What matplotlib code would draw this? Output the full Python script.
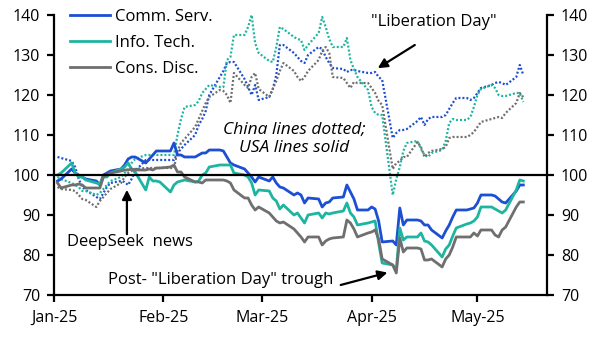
import pandas as pd
import numpy as np
import matplotlib.pyplot as plt
import matplotlib.dates as mdates

plt.rcParams['font.family'] = ['Open Sans', 'DejaVu Sans']

# business days, Jan 2 - May 14 2025
dates = pd.bdate_range('2025-01-02', '2025-05-14')

# US sectors (solid)
us_comm = [98.5, 99, 101.5, 100.5, 100, 99.5, 99, 98.5, 97.5, 100, 100.5, 101, 101.5, 102.5, 104, 104.5, 104.5, 103, 104, 105, 106, 106,
           106, 108, 105, 105, 104.5, 104.5, 105, 105.5, 105.5, 106.25, 106.25, 106, 104.5, 103, 102.5, 101.5, 100.5, 99.5, 98.25, 99.5,
           98.5, 99.5, 98, 97, 96.75, 95, 95.5, 95, 93, 94.25, 94, 92, 93, 93.25, 94.25, 94.5, 97.5, 95.75, 94, 91.25, 91.25,
           92, 91.5, 88.5, 83.25, 83.5, 82.5, 91.75, 87.5, 88.75, 88.75, 88.5, 87.5, 87.5, 86.25, 84.25, 86, 87.5, 89.5, 91.25, 91.25, 91.5, 91.75,
           93, 95, 95, 94.75, 94, 93.25, 93, 96, 97.5, 97.5]
us_tech = [100, 100.5, 103, 100.5, 99.5, 99.5, 98.75, 98, 97.75, 99.5, 99.5, 100.5, 101.5, 102, 103, 101.5, 100.75, 96.25, 99.5, 98.5, 98.5, 98.25,
           95.75, 97.5, 98.25, 98.5, 98.75, 98.25, 98.5, 100, 100.5, 102, 102.5, 102.5, 102.5, 102.5, 100.5, 100, 99.5, 98, 95, 96.25,
           96, 94.25, 93.5, 91.5, 92.5, 90, 90.5, 89.25, 88, 90, 90.5, 89.25, 90.5, 90.25, 90.5, 91, 93, 90.5, 89.5, 87.5, 88,
           88.25, 88.5, 83, 78, 77.5, 76.25, 86.75, 83.75, 84.5, 84.5, 85.5, 83.5, 83.25, 82.5, 79.5, 81.5, 82.5, 84.75, 86.75, 87.75, 88, 88.5,
           89.5, 92, 92, 91.5, 91, 90.5, 91.25, 96.25, 98.75, 98.5]
us_disc = [98, 96.75, 97.5, 97.5, 97.75, 97.5, 96.75, 96.75, 96.75, 99.5, 100, 100.5, 101, 101.25, 101.25, 101.5, 101.25, 101.25, 101.5, 101.25, 101.75, 101.75,
           102, 102.5, 100.75, 100.75, 99.5, 98.25, 98.25, 98, 98.75, 98.75, 98.75, 98.75, 98.5, 98, 96.25, 94.25, 94.25, 92.5, 91.25, 92,
           90.5, 89.5, 88.5, 88, 88.25, 86.5, 85.5, 84.5, 83.25, 84.5, 84.5, 82.5, 83.5, 84, 84.25, 84.5, 88.75, 88, 86.5, 84.5, 85.5,
           85.75, 86.25, 84, 79, 77.5, 75.5, 84.25, 80.75, 81.75, 81.75, 81.5, 78.75, 78.75, 79, 77, 79, 80, 82, 84.5, 84.5, 84.5, 85.5,
           84.75, 86.25, 86.25, 85, 84.5, 86.25, 87, 92, 93.25, 93.25]

# China sectors (dotted)
cn_comm = [104.5, 104.25, 103.5, 102, 99, 97, 96.25, 94.5, 94, 95.5, 97, 98, 98.5, 98.25, 97.5, 99, 101, 103.75, 103.75, 103.75, 103.75, 103.75,
           103.75, 103.75, 105.5, 106.5, 107.5, 110, 112.5, 114, 116, 120, 124.5, 126, 128, 128.25, 128.25, 124, 122, 120, 122.5, 118.75,
           119.5, 121.5, 125, 132.5, 132.5, 130.5, 129.5, 128.5, 128, 130, 132, 131.5, 129.5, 128, 126.75, 126.5, 125.75, 126.25, 126.25, 126, 125.5,
           125.5, 125.75, 124.5, 123.75, 109.25, 110.5, 111.25, 111.25, 111.5, 113.5, 114.5, 112.5, 114, 114.5, 114.5, 115, 116.5, 118, 119.25, 119.25, 118.75, 119.25,
           120.5, 121.75, 122.5, 123, 123.25, 123, 122.5, 124.5, 127.5, 125]
cn_tech = [99.5, 99, 98, 97.5, 97, 96, 96, 95, 95.5, 96.5, 97.5, 98.5, 99.5, 100.5, 101.5, 103, 104, 105, 105, 105, 105, 105,
           105, 105, 110, 114, 117, 117.5, 118.5, 120.5, 121.5, 122.5, 122, 122, 128.75, 129.5, 135, 135, 137, 140, 133, 130.5,
           128.5, 128.25, 132, 137, 136.5, 134.5, 134, 133.75, 131.25, 132.5, 135.5, 139.5, 137, 134, 132, 132, 134.25, 128.75, 126.5, 124.5, 121.25,
           117, 115.5, 115, 115, 95, 99, 102, 106, 108, 108.5, 106.5, 105, 104.5, 105.5, 106.25, 108.5, 113, 114, 113.75, 113.75, 114.5, 117,
           120, 121.5, 122.5, 121.75, 120, 119.75, 119.75, 120.5, 120.5, 118.25]
cn_disc = [97, 96.5, 96.25, 96, 95, 94, 93.75, 92, 93.5, 94.5, 95.5, 96.5, 98, 99.5, 100.5, 101, 101.5, 101.75, 101.75, 101.75, 101.75, 101.75,
           101.75, 101.75, 106, 108, 109, 112, 114, 116, 118, 119.5, 121.25, 121, 120, 118, 125.5, 122.5, 121.75, 124.5, 125.5, 121.5,
           119.5, 121.5, 123.5, 126, 128, 126, 124.5, 123.5, 124.5, 126, 128.75, 131, 132, 130.5, 124.5, 124.25, 123, 121.75, 123.25, 123, 123,
           121.75, 120.5, 118.5, 117.5, 101.5, 103, 103.5, 104.5, 104.5, 108.25, 107, 104.5, 105.5, 106, 106.5, 107, 109.25, 109.5, 109.5, 109.5, 110, 110.75,
           112, 113.25, 114, 114.25, 114.5, 114.25, 115.5, 118, 120.5, 119.5]

labels = ['Comm. Serv.', 'Info. Tech.', 'Cons. Disc.']
colors = ['#1D4FD3', '#1DB5A0', '#6F6F6F']

fig = plt.figure(figsize=(6.04, 3.4), dpi=100)
ax = fig.add_axes([0.0894, 0.1324, 0.8162, 0.8235])

for cn, c in zip([cn_comm, cn_tech, cn_disc], colors):
    ax.plot(dates, cn, color=c, lw=1.6, ls=(0, (0.9, 0.9)))
for us, lab, c in zip([us_comm, us_tech, us_disc], labels, colors):
    ax.plot(dates, us, color=c, lw=2.0, label=lab)

ax.axhline(100, color='black', lw=1.6, zorder=5)

ax.set_xlim(pd.Timestamp('2025-01-01'), pd.Timestamp('2025-05-20 17:00'))
ax.set_ylim(70, 140)
ax.set_yticks(range(70, 141, 10))
ax.xaxis.set_major_locator(mdates.MonthLocator())
ax.xaxis.set_major_formatter(mdates.DateFormatter('%b-%y'))

ax.spines['top'].set_visible(False)
for s in ['left', 'right', 'bottom']:
    ax.spines[s].set_linewidth(1.6)
ax.tick_params(axis='y', which='both', left=True, right=True, labelleft=True, labelright=True,
               direction='out', length=5, width=1.6, labelsize=11.5, pad=5)
ax.tick_params(axis='x', direction='out', length=5, width=1.6, labelsize=11.5, pad=6)

leg = ax.legend(loc='upper left', bbox_to_anchor=(0.018, 1.045), frameon=False, fontsize=12,
                handlelength=2.4, handletextpad=0.3, labelspacing=0.6, borderaxespad=0)

arrow = dict(arrowstyle='-|>', color='black', lw=1.6, mutation_scale=14, shrinkA=0, shrinkB=0)
ax.text(pd.Timestamp('2025-03-10'), 109.0, 'China lines dotted;\nUSA lines solid', ha='center', va='center',
        fontsize=12.5, style='italic', linespacing=1.2)

ax.text(pd.Timestamp('2025-04-18 14:00'), 138.3, '"Liberation Day"', ha='center', va='center', fontsize=12)
ax.annotate('', xy=(pd.Timestamp('2025-04-02 18:00'), 126.7), xytext=(pd.Timestamp('2025-04-13 06:00'), 132.5),
            arrowprops=arrow)

ax.text(pd.Timestamp('2025-01-22 12:00'), 83.2, 'DeepSeek  news', ha='center', va='center', fontsize=12)
ax.annotate('', xy=(pd.Timestamp('2025-01-21 16:00'), 96.3), xytext=(pd.Timestamp('2025-01-21 16:00'), 85.2),
            arrowprops=arrow)

ax.text(pd.Timestamp('2025-02-17 06:00'), 73.7, 'Post- "Liberation Day" trough', ha='center', va='center', fontsize=12)
ax.annotate('', xy=(pd.Timestamp('2025-04-05 12:00'), 75.6), xytext=(pd.Timestamp('2025-03-23 06:00'), 72.5),
            arrowprops=arrow)

plt.savefig('out.png', dpi=100)
